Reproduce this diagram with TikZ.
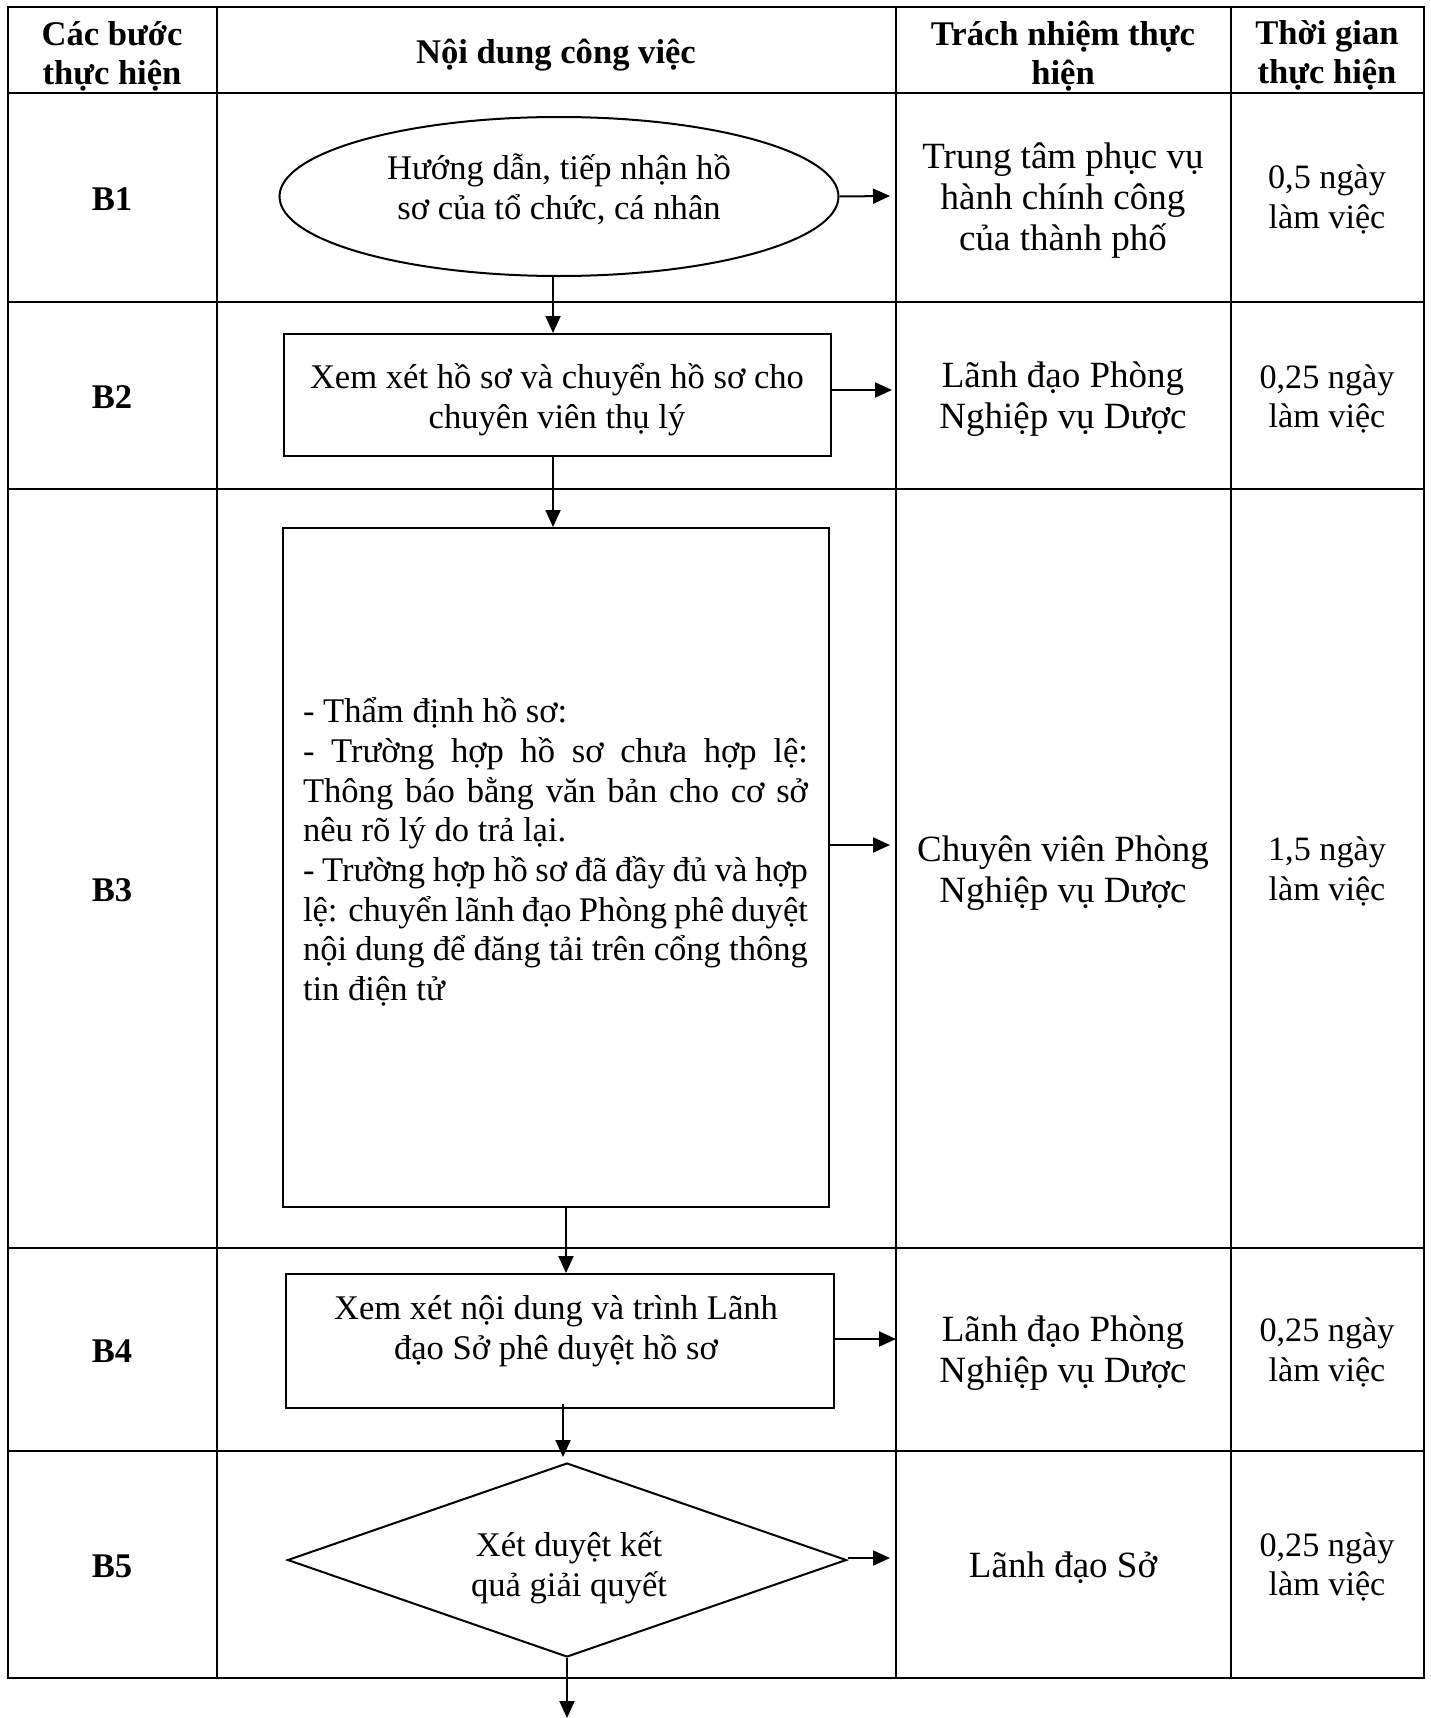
\documentclass[tikz,border=0pt]{standalone}
\usepackage{fontspec}
\setmainfont{Liberation Serif}
\usetikzlibrary{shapes.geometric,arrows.meta}
\begin{document}
\begin{tikzpicture}[x=1pt,y=-1pt,
  grid/.style={line width=2.1pt},
  thick grid/.style={line width=2.6pt},
  hdr/.style={font=\bfseries\fontsize{34.6}{39}\selectfont, align=center, inner sep=0pt},
  txt/.style={font=\fontsize{34.6}{39.7}\selectfont, align=center, inner sep=0pt},
  resp/.style={font=\fontsize{37}{41}\selectfont, align=center, inner sep=0pt},
  tim/.style={font=\fontsize{34.2}{39.5}\selectfont, align=center, inner sep=0pt},
  shp/.style={draw, line width=2pt, inner sep=0pt},
  arr/.style={line width=2pt, -{Triangle[length=17pt,width=15pt]}}]
\useasboundingbox (0,0) rectangle (1431,1718);
\fill[white] (0,0) rectangle (1431,1718);

% table grid
\draw[grid] (8,7) rectangle (1424,1678);
\draw[thick grid] (8,7) -- (1424,7);
\draw[thick grid] (8,93) -- (1424,93);
\foreach \yy in {302,489,1248,1451} \draw[grid] (8,\yy) -- (1424,\yy);
\foreach \xx in {217,896,1231} \draw[grid] (\xx,7) -- (\xx,1678);

% header
\node[hdr] (h1) at (112,56) {Các bước\\thực hiện};
\node[hdr] (h2) at (556,55.5) {Nội dung công việc};
\node[hdr] (h3) at (1063,56) {Trách nhiệm thực\\hiện};
\node[hdr] (h4) at (1327,55) {Thời gian\\thực hiện};

% step labels
\node[hdr] (s1) at (112,199) {B1};
\node[hdr] (s2) at (112,397) {B2};
\node[hdr] (s3) at (112,890) {B3};
\node[hdr] (s4) at (112,1351) {B4};
\node[hdr] (s5) at (112,1566) {B5};

% responsibility
\node[resp] (r1) at (1063,201) {Trung tâm phục vụ\\hành chính công\\của thành phố};
\node[resp] (r2) at (1063,399.5) {Lãnh đạo Phòng\\Nghiệp vụ Dược};
\node[resp] (r3) at (1063,873) {Chuyên viên Phòng\\Nghiệp vụ Dược};
\node[resp] (r4) at (1063,1353.5) {Lãnh đạo Phòng\\Nghiệp vụ Dược};
\node[resp] (r5) at (1063,1568) {Lãnh đạo Sở};

% time
\node[tim] (t1) at (1327,199.5) {0,5 ngày\\làm việc};
\node[tim] (t2) at (1327,399) {0,25 ngày\\làm việc};
\node[tim] (t3) at (1327,871.5) {1,5 ngày\\làm việc};
\node[tim] (t4) at (1327,1352.5) {0,25 ngày\\làm việc};
\node[tim] (t5) at (1327,1567) {0,25 ngày\\làm việc};

% flow shapes
\node[shp, ellipse, minimum width=559pt, minimum height=159pt] (e1) at (559,196.5) {};
\node[txt] (e1t) at (559,189) {Hướng dẫn, tiếp nhận hồ\\sơ của tổ chức, cá nhân};

\node[shp, rectangle, minimum width=547pt, minimum height=122pt] (b2) at (557.5,395) {};
\node[txt] (b2t) at (557,399.5) {Xem xét hồ sơ và chuyển hồ sơ cho\\chuyên viên thụ lý};

\node[shp, rectangle, minimum width=546pt, minimum height=679pt] (b3) at (556,867.5) {};
\node[txt, align=left] (b3t) at (555.5,852) {\parbox{505pt}{%
\hbox to 505pt{- Thẩm định hồ sơ:\hfil}
\hbox to 505pt{- Trường hợp hồ sơ chưa hợp lệ:}
\hbox to 505pt{Thông báo bằng văn bản cho cơ sở}
\hbox to 505pt{nêu rõ lý do trả lại.\hfil}
\hbox to 505pt{- Trường hợp hồ sơ đã đầy đủ và hợp}
\hbox to 505pt{lệ: chuyển lãnh đạo Phòng phê duyệt}
\hbox to 505pt{nội dung để đăng tải trên cổng thông}
\hbox to 505pt{tin điện tử\hfil}}};

\node[shp, rectangle, minimum width=548pt, minimum height=134pt] (b4) at (560,1341) {};
\node[txt] (b4t) at (556,1331.5) {Xem xét nội dung và trình Lãnh\\đạo Sở phê duyệt hồ sơ};

\node[shp, diamond, minimum width=559pt, minimum height=194pt] (d5) at (567,1560) {};
\node[txt] (d5t) at (569,1567.5) {Xét duyệt kết\\quả giải quyết};

% free ends
\coordinate (a1) at (890,196);
\coordinate (a2) at (892,390);
\coordinate (a3) at (890,845);
\coordinate (a4) at (896,1339);
\coordinate (a5) at (890,1558);
\coordinate (a6) at (567,1718);

% connectors
\draw[arr] (e1.east) -- (a1);
\draw[arr] (b2.east |- a2) -- (a2);
\draw[arr] (b3.east |- a3) -- (a3);
\draw[arr] (b4.east |- a4) -- (a4);
\draw[arr] (d5.east |- a5) -- (a5);

\draw[arr] ([xshift=-6pt]e1.south) -- ([xshift=-6pt]e1.south |- b2.north);
\draw[arr] ([xshift=-4.5pt]b2.south) -- ([xshift=-4.5pt]b2.south |- b3.north);
\draw[arr] ([xshift=10pt]b3.south) -- ([xshift=10pt]b3.south |- b4.north);
\draw[arr] ([xshift=3pt,yshift=5pt]b4.south) -- ([xshift=3pt,yshift=5pt]b4.south |- d5.north);
\draw[arr] (d5.south) -- (a6);
\end{tikzpicture}
\end{document}
